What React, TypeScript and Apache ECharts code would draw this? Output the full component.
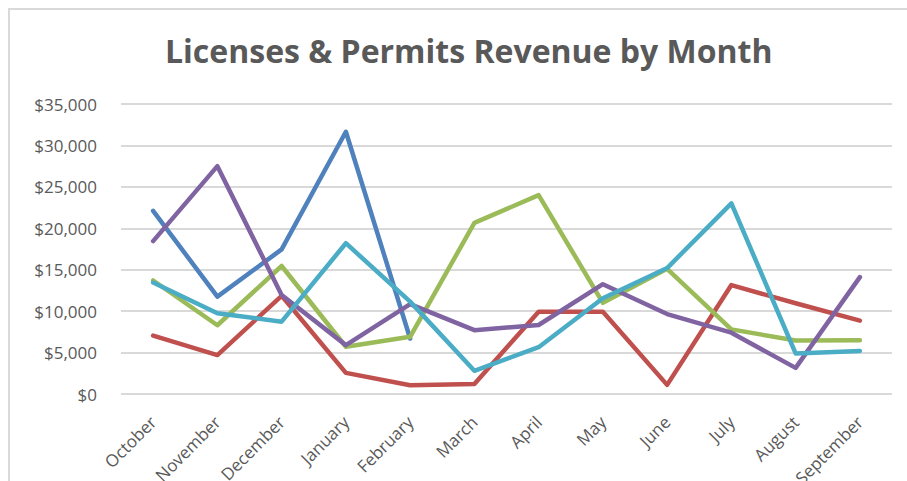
import React, { useEffect, useRef } from "react";
import * as echarts from "echarts";

const months = ["October", "November", "December", "January", "February", "March", "April", "May", "June", "July", "August", "September"];
const seriesBlue = [22100, 11750, 17450, 31650, 6700, null, null, null, null, null, null, null];
const seriesRed = [7050, 4700, 11850, 2550, 1050, 1200, 9930, 9930, 1100, 13150, 10950, 8850];
const seriesGreen = [13700, 8300, 15450, 5700, 6900, 20650, 24000, 11000, 15100, 7800, 6450, 6500];
const seriesPurple = [18450, 27500, 11950, 5900, 10850, 7700, 8330, 13250, 9650, 7400, 3150, 14100];
const seriesCyan = [13450, 9750, 8730, 18200, 11150, 2800, 5650, 11550, 15200, 23000, 4900, 5200];
const colors = ["#4F81BD", "#C0504D", "#9BBB59", "#8064A2", "#4BACC6"];
const seriesNames = ["Series 1", "Series 2", "Series 3", "Series 4", "Series 5"];
const title = "Licenses & Permits Revenue by Month";

export default function App() {
  const ref = useRef<HTMLDivElement>(null);
  useEffect(() => {
    if (!ref.current) return;
    const chart = echarts.init(ref.current, null, { renderer: "svg" });
    const allData = [seriesBlue, seriesRed, seriesGreen, seriesPurple, seriesCyan];
    const font = "'Open Sans', sans-serif";
    chart.setOption({
      animation: false,
      backgroundColor: "#ffffff",
      title: {
        text: title,
        left: 160,
        top: 29,
        textStyle: { fontFamily: font, fontSize: 32, fontWeight: "bold", color: "#595959" },
      },
      graphic: [
        {
          type: "rect",
          shape: { x: 9, y: 9, width: 1000, height: 1000 },
          style: { fill: "none", stroke: "#d9d9d9", lineWidth: 2 },
          silent: true,
        },
      ],
      grid: { left: 121, right: 15, top: 104, bottom: 87, containLabel: false, outerBoundsMode: "none" },
      xAxis: {
        type: "category",
        data: months,
        boundaryGap: true,
        axisLine: { show: false },
        axisTick: { show: false },
        axisLabel: {
          rotate: 45,
          interval: 0,
          margin: 25,
          fontFamily: font,
          fontSize: 17,
          color: "#595959",
        },
      },
      yAxis: {
        type: "value",
        min: 0,
        max: 35000,
        interval: 5000,
        axisLine: { show: false },
        axisTick: { show: false },
        splitLine: { lineStyle: { color: "#d9d9d9", width: 2 } },
        axisLabel: {
          margin: 24,
          fontFamily: font,
          fontSize: 17,
          color: "#595959",
          formatter: (v: number) => "$" + v.toLocaleString("en-US"),
        },
      },
      series: allData.map((d, i) => ({
        name: seriesNames[i],
        type: "line",
        data: d,
        symbol: "none",
        connectNulls: false,
        lineStyle: { color: colors[i], width: 4.5, cap: "round", join: "round" },
        itemStyle: { color: colors[i] },
      })),
    });
    return () => chart.dispose();
  }, []);
  return <div ref={ref} style={{ position: "absolute", left: 0, top: 0, width: 907, height: 481 }} />;
}
